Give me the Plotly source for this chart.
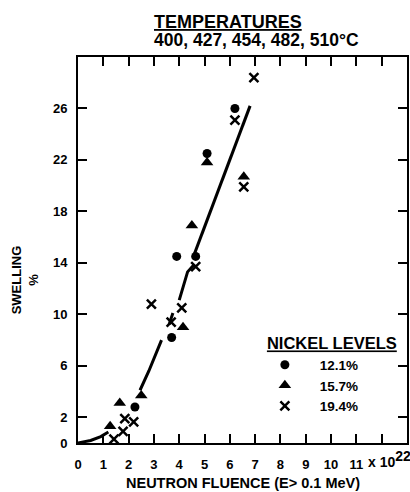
import plotly.graph_objects as go

# ---- data (fluence in 10^22 n/cm^2, swelling in %) ----
ni121_x = [2.25, 3.7, 3.9, 4.65, 5.1, 6.2]
ni121_y = [2.8, 8.2, 14.5, 14.5, 22.5, 26.0]

ni157_x = [1.27, 1.65, 2.5, 4.15, 4.5, 5.1, 6.55]
ni157_y = [1.3, 3.1, 3.7, 9.0, 16.9, 21.8, 20.7]

ni194_x = [1.42, 1.78, 1.85, 2.2, 2.9, 3.68, 4.1, 4.65, 6.2, 6.55, 6.95]
ni194_y = [0.3, 0.9, 1.9, 1.65, 10.8, 9.4, 10.5, 13.7, 25.1, 19.9, 28.4]

# fitted curve (broken where it passes the symbols)
curve_x = [0, 0.5, 0.9, 1.2, None, 2.45, 2.8, 3.3, None, 3.6, 3.75, None,
           4.0, 4.33, 4.6, None, 4.6, 6.8]
curve_y = [0, 0.2, 0.5, 0.85, None, 4.1, 5.6, 8.0, None, 9.2, 10.1, None,
           11.1, 13.3, 13.9, None, 14.7, 26.2]

x_ticks = list(range(0, 12))
x_ticktext = [str(v) for v in x_ticks]
y_ticks = [0, 2, 6, 10, 14, 18, 22, 26]

series_names = ["12.1%", "15.7%", "19.4%"]

FONT = "Liberation Sans"
PAD = "\u2002\u2009\u2009\u2009"

fig = go.Figure()
fig.add_trace(go.Scatter(x=curve_x, y=curve_y, mode="lines",
                         line=dict(color="black", width=3),
                         showlegend=False, connectgaps=False, hoverinfo="skip"))
fig.add_trace(go.Scatter(x=ni121_x, y=ni121_y, mode="markers", name=PAD + series_names[0],
                         marker=dict(symbol="circle", size=9, color="black")))
fig.add_trace(go.Scatter(x=ni157_x, y=ni157_y, mode="markers", name=PAD + series_names[1],
                         marker=dict(symbol="triangle-up", size=11, color="black")))
fig.add_trace(go.Scatter(x=ni194_x, y=ni194_y, mode="markers", name=PAD + series_names[2],
                         marker=dict(symbol="x-thin", size=9, color="black",
                                     line=dict(width=2.5, color="black"))))

axis_common = dict(showline=True, linewidth=2, linecolor="black", mirror="ticks",
                   ticks="inside", tickcolor="black", tickwidth=2, ticklen=9,
                   showgrid=False, zeroline=False,
                   tickfont=dict(family=FONT, size=13, color="black", weight="bold"))

fig.update_xaxes(range=[0, 13], tickvals=x_ticks, ticktext=x_ticktext,
                 ticklabelstandoff=8,
                 minor=dict(tick0=0, dtick=1, ticks="inside", ticklen=9,
                            tickwidth=2, tickcolor="black", showgrid=False),
                 **axis_common)
fig.update_yaxes(range=[0, 30], tickvals=y_ticks,
                 ticklabelstandoff=6, **axis_common)

ann_font = dict(family=FONT, color="black", weight="bold")
fig.update_layout(
    width=410, height=492,
    margin=dict(l=78, r=1, t=57, b=49),
    paper_bgcolor="white", plot_bgcolor="white",
    showlegend=True,
    legend=dict(x=(266 - 78) / 331, y=(443 - 328) / 386, xanchor="left", yanchor="top",
                title=dict(text="<u>NICKEL LEVELS</u>", side="top center",
                           font=dict(family=FONT, size=16.5, color="black", weight="bold")),
                font=dict(family=FONT, size=13.5, color="black", weight="bold"),
                bgcolor="rgba(0,0,0,0)", itemwidth=30, tracegroupgap=0),
    annotations=[
        dict(text="<u>TEMPERATURES</u>", xref="paper", yref="paper",
             x=(152 - 78) / 331, y=(443 - 22) / 386, xanchor="left", yanchor="middle",
             showarrow=False, font=dict(size=18, **ann_font)),
        dict(text="400, 427, 454, 482, 510°C", xref="paper", yref="paper",
             x=(152 - 78) / 331, y=(443 - 40) / 386, xanchor="left", yanchor="middle",
             showarrow=False, font=dict(size=17.5, **ann_font)),
        dict(text="SWELLING<br>%", xref="paper", yref="paper",
             x=(25 - 78) / 331, y=(443 - 280) / 386, xanchor="center", yanchor="middle",
             textangle=-90, showarrow=False, font=dict(size=13, **ann_font)),
        dict(text="NEUTRON FLUENCE (E> 0.1 MeV)", xref="paper", yref="paper",
             x=0.5, y=(443 - 483) / 386, xanchor="center", yanchor="middle",
             showarrow=False, font=dict(size=14.5, **ann_font)),
        dict(text="x 10<sup><span style='font-size:14px'>22</span></sup>",
             xref="paper", yref="paper",
             x=(368 - 78) / 331, y=(443 - 459) / 386, xanchor="left", yanchor="middle",
             showarrow=False, font=dict(size=14, **ann_font)),
    ],
)

fig.write_html("out.html")
